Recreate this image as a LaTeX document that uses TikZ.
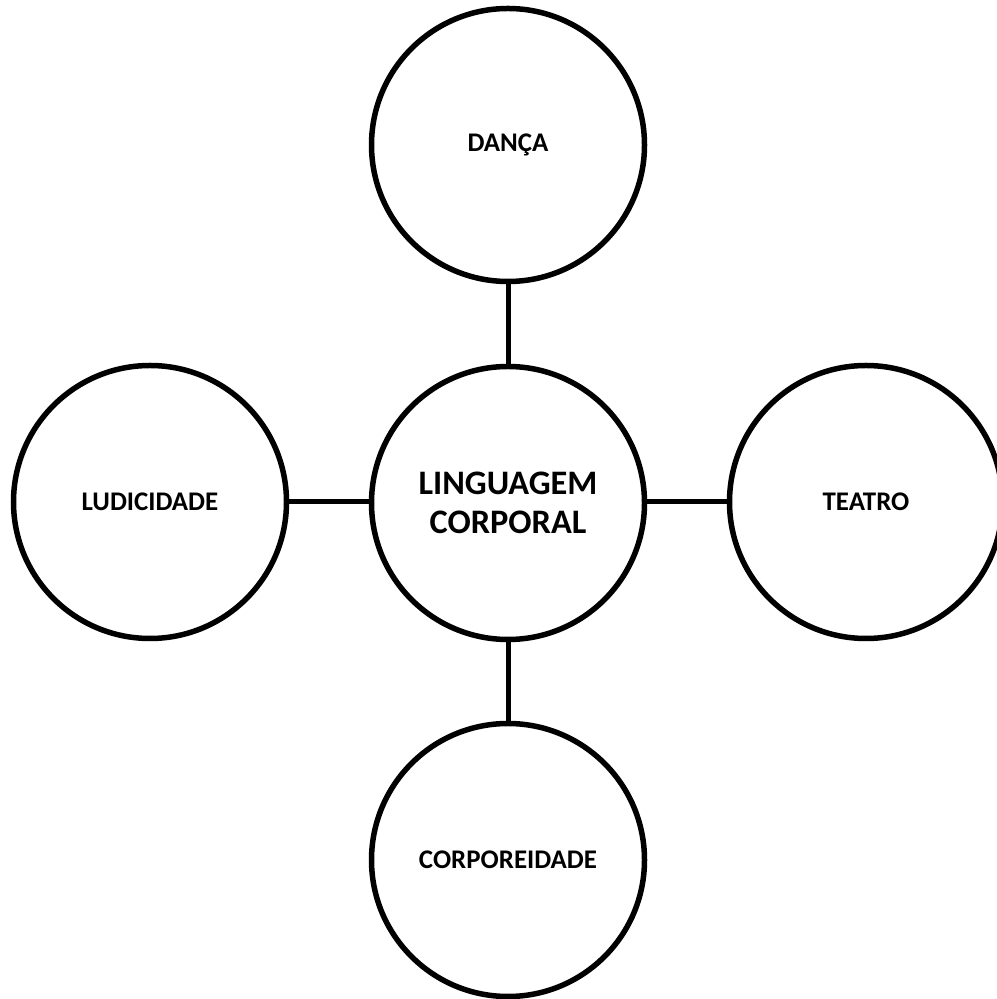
\documentclass[tikz,border=0pt]{standalone}
\usepackage{fontspec}
\setmainfont{Carlito}
\begin{document}
\begin{tikzpicture}[x=1bp,y=1bp,
  topic/.style={circle,draw=black,line width=5.5bp,minimum size=273bp,inner sep=0pt,
    font=\bfseries\fontsize{27}{32}\selectfont,align=center},
  hub/.style={topic,font=\bfseries\fontsize{34.5}{39}\selectfont},
  link/.style={line width=5bp}]
  \useasboundingbox (0,0) rectangle (997,999);
  \node[hub]   (core) at (508,496) {LINGUAGEM\\CORPORAL};
  \node[topic] (danca) at (508,854) {DANÇA};
  \node[topic] (ludi)  at (150,497) {LUDICIDADE};
  \node[topic] (teatro) at (866,497) {TEATRO};
  \node[topic] (corpo) at (508,139) {CORPOREIDADE};
  \draw[link] (danca) -- (core);
  \draw[link] (ludi) -- (ludi -| core.west);
  \draw[link] (core.east |- teatro) -- (teatro);
  \draw[link] (core) -- (corpo);
\end{tikzpicture}
\end{document}
